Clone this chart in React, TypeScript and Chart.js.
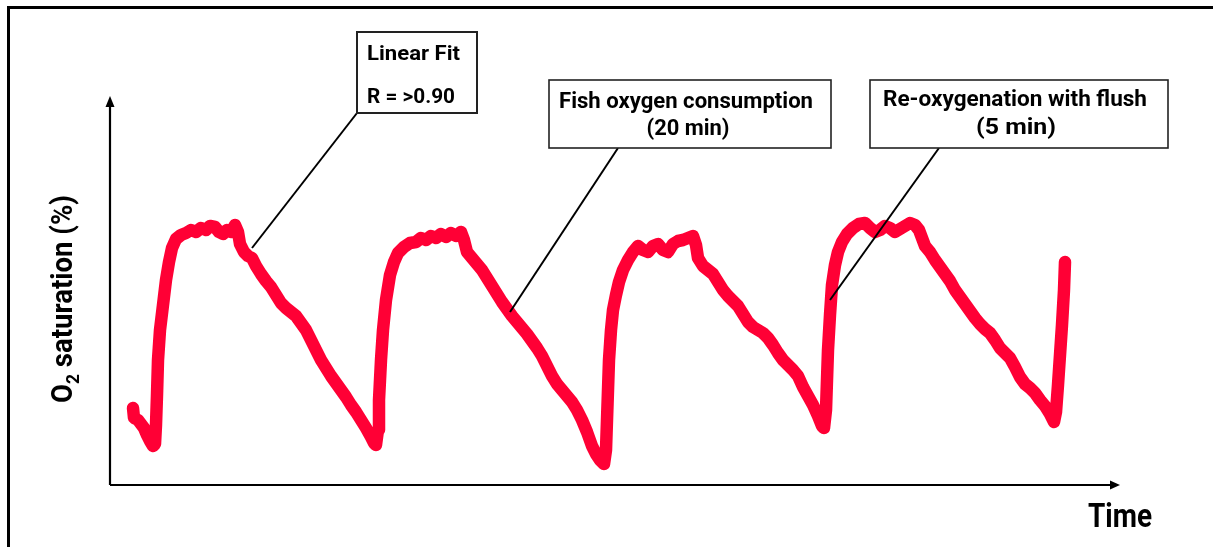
import React, { useEffect, useRef } from "react";
import { Chart, registerables } from "chart.js";

Chart.register(...registerables);

// Time (min) and O2 saturation (%)
const timeMin = [
  2.3, 2.4, 2.8, 3.1, 3.4, 3.7, 4.0, 4.3, 4.5,
  4.6, 4.7, 4.8, 5.0, 5.3, 5.6, 5.9, 6.2, 6.6, 7.1,
  7.6, 8.1, 8.6, 9.1, 9.6, 10.0, 10.5, 10.9, 11.3, 11.7, 12.1, 12.5, 12.8, 13.0,
  13.4, 13.8, 14.2, 14.6, 15.1, 15.6, 16.1, 16.6, 17.1, 17.6, 18.1, 18.6, 19.1, 19.6,
  20.1, 20.6, 21.1, 21.6, 22.1, 22.6, 23.1, 23.6, 24.1, 24.6, 25.1, 25.6, 26.1, 26.4, 26.6,
  26.8, 26.9, 27.1, 27.3, 27.6, 28.0, 28.4, 28.8, 29.4, 30.0,
  30.6, 31.1, 31.6, 32.1, 32.6, 33.1, 33.6, 34.1, 34.6, 35.1, 35.4, 35.7,
  36.2, 36.7, 37.2, 37.7, 38.2, 38.7, 39.2, 39.7, 40.2, 40.7, 41.2, 41.7, 42.2, 42.7,
  43.2, 43.7, 44.2, 44.7, 45.2, 45.7, 46.2, 46.7, 47.2, 47.7, 48.2, 48.6, 49.0, 49.4,
  49.6, 49.7, 49.8, 49.9, 50.1, 50.3, 50.6, 50.9, 51.3, 51.8, 52.3, 52.8,
  53.3, 53.8, 54.3, 54.8, 55.3, 55.8, 56.3, 56.8, 57.3, 57.8, 58.3, 58.6, 58.8,
  59.3, 59.8, 60.3, 60.8, 61.3, 61.8, 62.3, 62.8, 63.3, 63.8, 64.3, 64.8, 65.3, 65.8,
  66.3, 66.8, 67.3, 67.8, 68.3, 68.8, 69.3, 69.8, 70.3, 70.8, 71.2, 71.4,
  71.6, 71.7, 71.8, 72.0, 72.2, 72.5, 72.8, 73.2, 73.7, 74.3, 74.9,
  75.5, 76.0, 76.5, 77.0, 77.5, 78.0, 78.5, 79.0, 79.5, 80.0, 80.5, 80.9, 81.2, 81.5,
  82.0, 82.5, 83.0, 83.5, 84.0, 84.5, 85.0, 85.5, 86.0, 86.5, 87.0, 87.5, 88.0, 88.5,
  89.0, 89.5, 90.0, 90.5, 91.0, 91.5, 92.0, 92.5, 93.0, 93.5, 94.0, 94.4,
  94.6, 94.8, 95.0, 95.2, 95.4, 95.5,
];

const o2Sat = [
  19.25, 16.75, 16.25, 15.25, 14.25, 12.5, 11, 9.75, 10.25,
  15, 22.5, 31.25, 38.75, 45, 51.25, 55.75, 59.25, 61.5, 62.5,
  63, 63.75, 63.25, 64.25, 63.75, 64.75, 64.5, 63.25, 62.75, 63.75, 63.25, 65, 63.25, 60.25,
  58.25, 57.25, 56.75, 54.75, 52.75, 51, 49.5, 47.5, 45.5, 44.25, 43.25, 42.25, 40.5, 38.75,
  36.25, 33.75, 31.25, 29.25, 27.25, 25.5, 23.75, 22, 20, 18.25, 16.25, 14.25, 12, 10.5, 10,
  13.75, 21.25, 31.25, 38.75, 46.25, 52.5, 55.75, 58, 59.5, 60.5,
  60.75, 61.75, 61.25, 62.25, 61.75, 62.75, 62, 63, 62.25, 63.25, 61.25, 58.25,
  56.75, 55.25, 53.75, 51.75, 49.75, 47.75, 45.75, 44, 42.25, 40.75, 39.25, 37.75, 36, 34.25,
  32.25, 29.75, 27.25, 25.25, 23.75, 22.25, 20.75, 18.75, 16.25, 13.25, 9.75, 7.75, 6.25, 5.25,
  8.75, 16.25, 23.75, 31.25, 38.75, 43.75, 47.5, 50.75, 53.75, 56.25, 58.25, 59.75,
  58.75, 58.25, 59.75, 60.25, 58.75, 58.25, 60.25, 61, 61.25, 61.75, 62.25, 60, 56.75,
  54.75, 53.75, 52.75, 50.75, 48.75, 47.25, 46, 44.75, 42.75, 40.75, 39.5, 38.75, 38, 36.75,
  35, 33, 31.25, 30, 28.75, 27.25, 24.5, 22.25, 20, 17.25, 14.75, 14.25,
  18.75, 26.25, 33.75, 42.5, 50, 55, 58.25, 60.75, 62.75, 64.25, 65.25,
  65.5, 64.25, 63.25, 63.75, 64.75, 64.25, 63.25, 64, 64.75, 65.5, 65, 63.75, 61.75, 59.75,
  58.25, 56.25, 54.5, 52.75, 51, 48.75, 47, 45.25, 43.5, 41.75, 40.25, 39, 38, 36.25,
  34.25, 33, 31.75, 29.5, 27, 25.25, 24.25, 23, 21.25, 19.75, 17.75, 15.75,
  18.25, 25, 32.5, 40, 48.75, 55.75,
];

// Callout texts and the point on the trace each one points at (time, saturation)
const calloutLines = [
  ["Linear Fit", "R = >0.90"],
  ["Fish oxygen consumption", "(20 min)"],
  ["Re-oxygenation with flush", "(5 min)"],
];
const calloutTargets = [
  [14.2, 59.25],
  [40.0, 43.25],
  [72.0, 46.25],
];

const xTitle = "Time";
const yTitleMain = "O";
const yTitleSub = "2";
const yTitleRest = " saturation (%)";

const FONT = "Roboto, 'Noto Sans', sans-serif";

function fitText(
  ctx: CanvasRenderingContext2D,
  text: string,
  x: number,
  y: number,
  size: number,
  width: number,
  align: "left" | "center" = "left"
) {
  ctx.save();
  ctx.font = `bold ${size}px ${FONT}`;
  ctx.textAlign = "left";
  ctx.textBaseline = "alphabetic";
  const w = ctx.measureText(text).width;
  const sx = width / w;
  const left = align === "center" ? x - width / 2 : x;
  ctx.translate(left, y);
  ctx.scale(sx, 1);
  ctx.fillText(text, 0, 0);
  ctx.restore();
}

// Box layouts (pixels) for the three callouts
const boxes = [
  {
    x: 357, y: 32, w: 120, h: 81, anchorX: 357, lw: 2,
    lines: [
      { x: 367, y: 60, size: 21, width: 93, align: "left" as const },
      { x: 367, y: 103, size: 21, width: 88, align: "left" as const },
    ],
  },
  {
    x: 549, y: 80, w: 282, h: 68, anchorX: 618, lw: 1.6,
    lines: [
      { x: 686, y: 108, size: 22, width: 254, align: "center" as const },
      { x: 688, y: 135, size: 22, width: 83, align: "center" as const },
    ],
  },
  {
    x: 870, y: 80, w: 298, h: 68, anchorX: 939, lw: 1.6,
    lines: [
      { x: 1015, y: 106, size: 22, width: 264, align: "center" as const },
      { x: 1016, y: 134, size: 22, width: 80, align: "center" as const },
    ],
  },
];

const decorPlugin = {
  id: "decor",
  afterDatasetsDraw(chart: any) {
    const ctx: CanvasRenderingContext2D = chart.ctx;
    const ca = chart.chartArea;
    const xs = chart.scales.x;
    const ys = chart.scales.y;
    ctx.save();
    ctx.fillStyle = "#000";
    // outer frame (top and left edges)
    ctx.fillRect(7, 6, chart.width, 3);
    ctx.fillRect(7, 6, 3, chart.height);

    // axes
    ctx.strokeStyle = "#000";
    ctx.lineWidth = 2.2;
    ctx.beginPath();
    ctx.moveTo(ca.left, ca.bottom);
    ctx.lineTo(ca.left, ca.top + 8);
    ctx.moveTo(ca.left, ca.bottom);
    ctx.lineTo(ca.right - 8, ca.bottom);
    ctx.stroke();
    // arrowheads
    ctx.beginPath();
    ctx.moveTo(ca.left, ca.top - 1);
    ctx.lineTo(ca.left - 4.5, ca.top + 10);
    ctx.lineTo(ca.left + 4.5, ca.top + 10);
    ctx.closePath();
    ctx.fill();
    ctx.beginPath();
    ctx.moveTo(ca.right, ca.bottom);
    ctx.lineTo(ca.right - 10, ca.bottom - 4.5);
    ctx.lineTo(ca.right - 10, ca.bottom + 4.5);
    ctx.closePath();
    ctx.fill();

    // callouts
    boxes.forEach((b, i) => {
      const [tx, ty] = calloutTargets[i];
      const px = xs.getPixelForValue(tx);
      const py = ys.getPixelForValue(ty);
      ctx.strokeStyle = "#000";
      ctx.lineWidth = 2;
      ctx.beginPath();
      ctx.moveTo(b.anchorX, b.y + b.h);
      ctx.lineTo(px, py);
      ctx.stroke();
      ctx.fillStyle = "#fff";
      ctx.fillRect(b.x, b.y, b.w, b.h);
      ctx.strokeStyle = "#222";
      ctx.lineWidth = b.lw;
      ctx.strokeRect(b.x, b.y, b.w, b.h);
      ctx.fillStyle = "#000";
      b.lines.forEach((l, j) => {
        fitText(ctx, calloutLines[i][j], l.x, l.y, l.size, l.width, l.align);
      });
    });

    // x title
    ctx.fillStyle = "#000";
    fitText(ctx, xTitle, 1088, 527, 33, 64, "left");

    // y title (rotated, with subscript)
    ctx.save();
    ctx.translate(72, 403);
    ctx.rotate(-Math.PI / 2);
    const big = `bold 30px ${FONT}`;
    const small = `bold 19px ${FONT}`;
    ctx.font = big;
    const w1 = ctx.measureText(yTitleMain).width;
    const w3 = ctx.measureText(yTitleRest).width;
    ctx.font = small;
    const w2 = ctx.measureText(yTitleSub).width;
    const total = w1 + w2 + w3;
    const sx = 208 / total;
    ctx.scale(sx, 1);
    ctx.textAlign = "left";
    ctx.textBaseline = "alphabetic";
    ctx.font = big;
    ctx.fillText(yTitleMain, 0, 0);
    ctx.font = small;
    ctx.fillText(yTitleSub, w1, 7);
    ctx.font = big;
    ctx.fillText(yTitleRest, w1 + w2, 0);
    ctx.restore();

    ctx.restore();
  },
};

export default function App() {
  const ref = useRef<HTMLCanvasElement | null>(null);
  useEffect(() => {
    document.body.style.margin = "0";
    const canvas = ref.current;
    if (!canvas) return;
    const points = timeMin.map((t, i) => ({ x: t, y: o2Sat[i] }));
    const chart = new Chart(canvas, {
      type: "line",
      data: {
        datasets: [
          {
            label: "O2 saturation",
            data: points,
            borderColor: "#FF0035",
            backgroundColor: "#FF0035",
            borderWidth: 12.5,
            pointRadius: 0,
            tension: 0,
            borderJoinStyle: "round",
            borderCapStyle: "round",
            fill: false,
          },
        ],
      },
      options: {
        responsive: false,
        animation: false,
        devicePixelRatio: 1,
        layout: { padding: { left: 110, right: 93, top: 97, bottom: 62 } },
        plugins: { legend: { display: false }, tooltip: { enabled: false } },
        scales: {
          x: { type: "linear", min: 0, max: 101, display: false },
          y: { type: "linear", min: 0, max: 97, display: false },
        },
      },
      plugins: [decorPlugin],
    });
    return () => chart.destroy();
  }, []);
  return (
    <div style={{ position: "fixed", left: 0, top: 0, width: 1213, height: 547, background: "#fff" }}>
      <canvas ref={ref} width={1213} height={547} style={{ width: 1213, height: 547, display: "block" }} />
    </div>
  );
}
